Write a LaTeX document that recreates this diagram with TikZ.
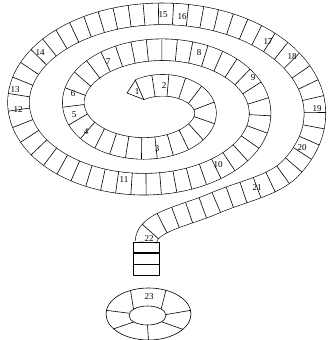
\documentclass[tikz,border=0pt]{standalone}
\usepackage{fontspec}
\setmainfont{Liberation Serif}
\usetikzlibrary{decorations.markings, positioning, shapes.geometric}

\begin{document}
\begin{tikzpicture}[x=1pt, y=-1pt, line width=0.6pt, line join=round,
    track/.style={preaction={draw, double=white, double distance=21pt},
      postaction={decorate},
      decoration={markings,
        mark=at position 0 with {\coordinate (sa) at (0pt,10.5pt); \coordinate (sb) at (0pt,-10.5pt);},
        mark=between positions 0 and -6pt step 14.5pt with {\draw (0pt,-10.8pt) -- (0pt,10.8pt);}}},
    stackcell/.style={draw, rectangle, minimum width=26pt, minimum height=10.7pt, inner sep=0pt},
    num/.style={font=\fontsize{9}{9}\selectfont, inner sep=0pt}]
  \useasboundingbox (0,0) rectangle (327,340);

  % spiral and tail
  \path[track] plot[domain=-0.4:14.75, samples=400, variable=\t]
      ({153+(38+8.75*\t)*sin(\t r)}, {108-(22+5.73*\t)*cos(\t r)})
    .. controls (273,186) and (240,192) .. (215,203)
    .. controls (185,216) and (146,222) .. (146,242);

  \coordinate (tip) at (127,93);
  \draw (sa) -- (tip) -- (sb);

  % straight part
  \node[stackcell] (c1) at (146,247.35) {};
  \node[stackcell, below=0pt of c1] (c2) {};
  \node[stackcell, below=0pt of c2] (c3) {};

  % last field
  \node[draw, ellipse, minimum width=85pt, minimum height=52pt, inner sep=0pt] (ring) at (148.5,314) {};
  \node[draw, ellipse, minimum width=37pt, minimum height=19pt, inner sep=0pt] (hub) at (147.5,315.5) {};
  \foreach \i/\o in {155/127, 26/54, 3/5, -24/-24, -90/-90, -155/-157, 173/175}
    \draw (hub.\i) -- (ring.\o);

  % numbers
  \foreach \n/\x/\y in {1/137/92, 2/164/86, 3/157/149, 4/86/132, 5/74/115, 6/73/94,
      7/108/62, 8/199/53, 9/253/78, 10/218/165, 11/124/180, 12/18/110, 13/15/90,
      14/40/53, 15/163/15, 16/182/17, 17/268/42, 18/292/57, 19/317/109, 20/302/148,
      21/257/188, 22/149/239, 23/149/297}
    \node[num] (n\n) at (\x,\y) {\n};
\end{tikzpicture}
\end{document}
